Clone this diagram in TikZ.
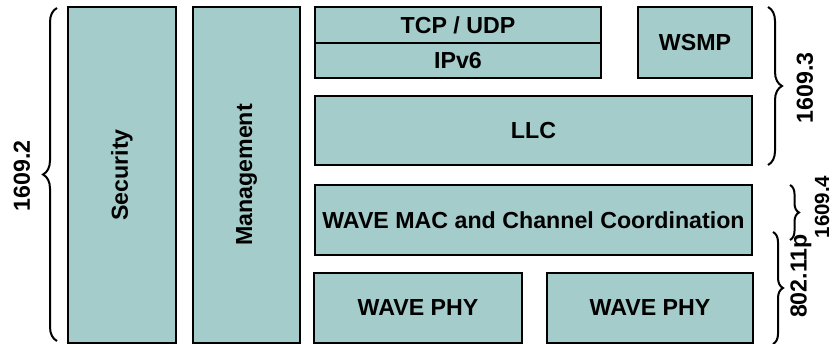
\documentclass[tikz,border=0pt]{standalone}
\usepackage{fontspec}
\setmainfont{Liberation Sans}
\usetikzlibrary{decorations.pathreplacing}
\definecolor{layerfill}{HTML}{A4CCCB}
\begin{document}
\begin{tikzpicture}[x=1pt,y=-1pt,
  font=\fontsize{23.2}{27}\selectfont\bfseries,
  layer/.style={draw=black, fill=layerfill, line width=1.7pt, rectangle,
    inner sep=0pt, outer sep=0pt, align=center},
  stdbrace/.style={decorate, line width=2pt,
    decoration={brace, amplitude=#1}},
  stdlabel/.style={rotate=90, inner sep=0pt}]
\useasboundingbox (0,0) rectangle (832,344);

% vertical service planes
\node[layer, minimum width=108pt, minimum height=336pt] (sec) at (122,175) {\rotatebox{90}{Security}};
\node[layer, minimum width=107pt, minimum height=336pt] (mgmt) at (246.5,175) {\rotatebox{90}{Management}};

% upper layers
\node[layer, minimum width=286pt, minimum height=36pt] (tcp) at (458,25) {TCP / UDP};
\node[layer, minimum width=286pt, minimum height=35pt] (ip) at (458,60.5) {IPv6};
\node[layer, minimum width=114pt, minimum height=71pt] (wsmp) at (695,42.5) {WSMP};
\node[layer, minimum width=437pt, minimum height=69pt] (llc) at (533.5,130.5) {LLC};

% MAC and PHY layers
\node[layer, minimum width=437pt, minimum height=70pt] (mac) at (533.5,220) {WAVE MAC and Channel Coordination};
\node[layer, minimum width=208pt, minimum height=70pt] (phya) at (418,308) {WAVE PHY};
\node[layer, minimum width=206pt, minimum height=70pt] (phyb) at (650,308) {WAVE PHY};

% brace end points
\coordinate (b2top) at (57,8);
\coordinate (b2bot) at (57,341);
\coordinate (b3top) at (768,7);
\coordinate (b3bot) at (768,165);
\coordinate (b4top) at (790,185);
\coordinate (b4bot) at (790,240);
\coordinate (bptop) at (773,232);
\coordinate (bpbot) at (773,344);

\draw[stdbrace=14pt] (b2bot) -- (b2top);
\draw[stdbrace=14pt] (b3top) -- (b3bot);
\draw[stdbrace=9pt] (b4top) -- (b4bot);
\draw[stdbrace=10pt] (bptop) -- (bpbot);

% standard labels
\node[stdlabel] (l2) at (22,176) {1609.2};
\node[stdlabel] (l3) at (805,88) {1609.3};
\node[stdlabel, font=\fontsize{20.5}{23}\selectfont\bfseries] (l4) at (822,207) {1609.4};
\node[stdlabel] (lp) at (801,276) {802.11p};
\end{tikzpicture}
\end{document}
